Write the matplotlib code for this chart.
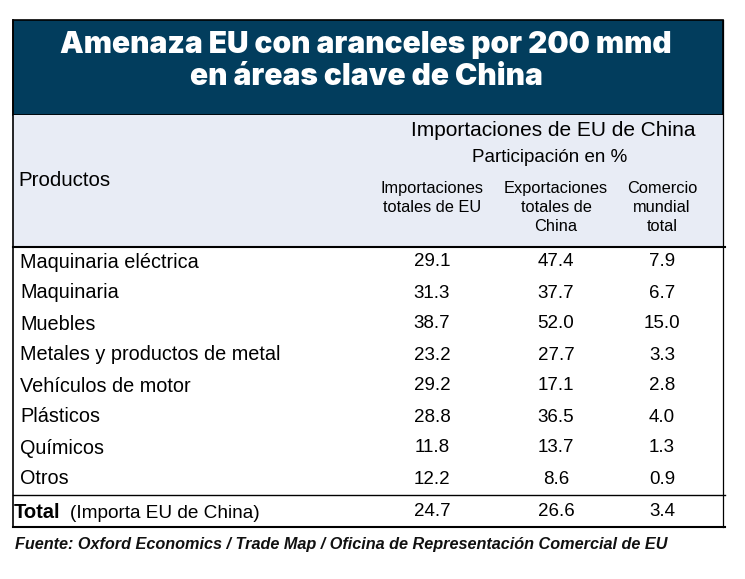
import matplotlib.pyplot as plt
from matplotlib.patches import Rectangle

# --- data ---
titulo = "Amenaza EU con aranceles por 200 mmd\nen áreas clave de China"
productos = ["Maquinaria eléctrica", "Maquinaria", "Muebles",
             "Metales y productos de metal", "Vehículos de motor",
             "Plásticos", "Químicos", "Otros"]
imp_eu = [29.1, 31.3, 38.7, 23.2, 29.2, 28.8, 11.8, 12.2]
exp_china = [47.4, 37.7, 52.0, 27.7, 17.1, 36.5, 13.7, 8.6]
comercio = [7.9, 6.7, 15.0, 3.3, 2.8, 4.0, 1.3, 0.9]
total_vals = [24.7, 26.6, 3.4]
col_heads = ["Importaciones\ntotales de EU", "Exportaciones\ntotales de\nChina",
             "Comercio\nmundial\ntotal"]
fuente = "Fuente: Oxford Economics / Trade Map / Oficina de Representación Comercial de EU"

W, H = 745, 579
fig = plt.figure(figsize=(W / 100, H / 100), dpi=100)
ax = fig.add_axes([0, 0, 1, 1])
ax.set_xlim(0, W)
ax.set_ylim(H, 0)
ax.axis("off")

sans = ["Liberation Sans", "DejaVu Sans"]
heavy = ["Inter", "DejaVu Sans"]
left, right = 13, 723

# header boxes
ax.add_patch(Rectangle((left, 20), right - left, 95, facecolor="#023D5D",
                       edgecolor="black", lw=1.2))
ax.add_patch(Rectangle((left, 115), right - left, 132, facecolor="#E8ECF5",
                       edgecolor="none"))
ax.text(366, 61, titulo, ha="center", va="center", color="white",
        fontsize=21.5, fontweight="black", family=heavy, linespacing=1.2)

# header texts
ax.text(553, 130, "Importaciones de EU de China", ha="center", va="center",
        fontsize=15, family=sans)
ax.text(550, 157, "Participación en %", ha="center", va="center",
        fontsize=13.5, family=sans)
ax.text(18, 181, "Productos", ha="left", va="center", fontsize=14.8, family=sans)

col_x = [432, 556, 662]
for x, h in zip(col_x, col_heads):
    ax.text(x, 181, h, ha="center", va="top", fontsize=11.8, family=sans,
            linespacing=1.35)

# rows
row_y0, row_h = 262, 31
for i, p in enumerate(productos):
    y = row_y0 + i * row_h
    ax.text(20, y, p, ha="left", va="center", fontsize=14.3, family=sans)
    for x, v in zip(col_x, [imp_eu[i], exp_china[i], comercio[i]]):
        ax.text(x, y, f"{v:.1f}", ha="center", va="center", fontsize=13.5,
                family=sans)

# total row
ty = 512
ax.text(14, ty, "Total", ha="left", va="center", fontsize=14.5,
        fontweight="bold", family=sans)
ax.text(70, ty + 1, "(Importa EU de China)", ha="left", va="center",
        fontsize=13.7, family=sans)
for x, v in zip(col_x, total_vals):
    ax.text(x, ty, f"{v:.1f}", ha="center", va="center", fontsize=13.5,
            family=sans)

# rules
ax.plot([left, right + 2], [247, 247], color="black", lw=1.5)
ax.plot([left, right + 2], [495, 495], color="black", lw=1.0)
ax.plot([left, right + 2], [527, 527], color="black", lw=1.5)
ax.plot([left, left], [20, 527], color="black", lw=1.2)
ax.plot([right, right], [20, 527], color="black", lw=0.9)

ax.text(15, 544, fuente, ha="left", va="center", fontsize=11.7,
        fontstyle="italic", fontweight="bold", color="#111111", family=sans)

fig.savefig("out.png", dpi=100)
